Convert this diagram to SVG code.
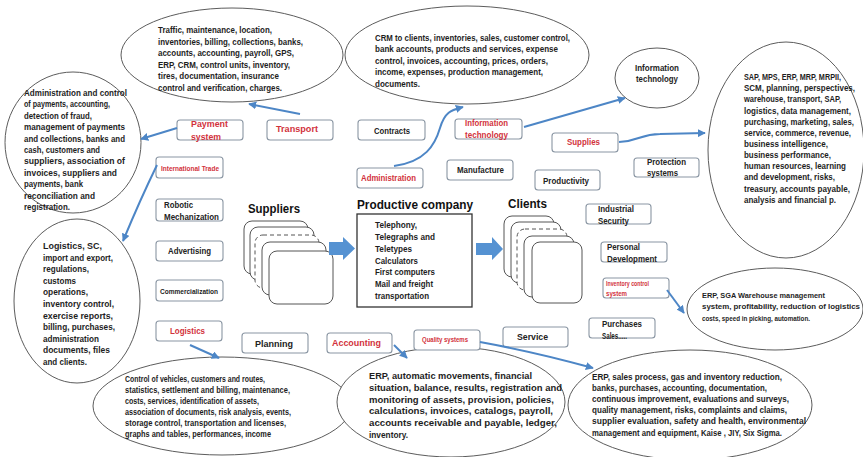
<svg xmlns="http://www.w3.org/2000/svg" width="863" height="457" viewBox="0 0 863 457">
<defs>
<style>
.el{fill:#fff;stroke:#5c5c5c;stroke-width:1}
.bx{fill:#fff;stroke:#8a96a3;stroke-width:1.1}
.p{font-family:'Liberation Sans',Arial,sans-serif;font-size:9.2px;font-weight:bold;fill:#1e1e1e}
.p85{font-family:'Liberation Sans',Arial,sans-serif;font-size:8.5px;font-weight:bold;fill:#1e1e1e}
.p79{font-family:'Liberation Sans',Arial,sans-serif;font-size:7.9px;font-weight:bold;fill:#1e1e1e}
.k{font-family:'Liberation Sans',Arial,sans-serif;font-size:9.5px;font-weight:bold;fill:#222}
.r{font-family:'Liberation Sans',Arial,sans-serif;font-size:9.5px;font-weight:bold;fill:#d2323c}
.rs{font-family:'Liberation Sans',Arial,sans-serif;font-size:7px;font-weight:bold;fill:#d2323c}
.ks{font-family:'Liberation Sans',Arial,sans-serif;font-size:7.5px;font-weight:bold;fill:#222}
.h{font-family:'Liberation Sans',Arial,sans-serif;font-size:12px;font-weight:bold;fill:#111}
.cd{fill:#fff;stroke:#555;stroke-width:1}
.cdd{fill:#fff;stroke:#555;stroke-width:1;stroke-dasharray:4 3}
.cn{fill:none;stroke:#4d86c6;stroke-width:2;marker-end:url(#ah)}
.ba{fill:#5592d2}
</style>
<marker id="ah" viewBox="0 0 10 10" refX="9" refY="5" markerWidth="4" markerHeight="4" orient="auto"><path d="M0,0 L10,5 L0,10 z" fill="#4d86c6"/></marker>
</defs>
<rect width="863" height="457" fill="#fff"/>

<g id="ellipse-transport">
<ellipse class="el" cx="232" cy="55" rx="111" ry="47"/>
<text class="p" x="158" y="33" textLength="114" lengthAdjust="spacingAndGlyphs">Traffic, maintenance, location,</text>
<text class="p" x="158" y="44.5" textLength="145" lengthAdjust="spacingAndGlyphs">inventories, billing, collections, banks,</text>
<text class="p" x="158" y="56" textLength="136" lengthAdjust="spacingAndGlyphs">accounts, accounting, payroll, GPS,</text>
<text class="p" x="158" y="67.5" textLength="132" lengthAdjust="spacingAndGlyphs">ERP, CRM, control units, inventory,</text>
<text class="p" x="158" y="79" textLength="121" lengthAdjust="spacingAndGlyphs">tires, documentation, insurance</text>
<text class="p" x="158" y="90.5" textLength="124" lengthAdjust="spacingAndGlyphs">control and verification, charges.</text>
</g>

<g id="ellipse-administration">
<ellipse class="el" cx="467" cy="55" rx="122" ry="49"/>
<text class="p" x="375" y="40.5" textLength="195" lengthAdjust="spacingAndGlyphs">CRM to clients, inventories, sales, customer control,</text>
<text class="p" x="375" y="52" textLength="183" lengthAdjust="spacingAndGlyphs">bank accounts, products and services, expense</text>
<text class="p" x="375" y="63.5" textLength="173" lengthAdjust="spacingAndGlyphs">control, invoices, accounting, prices, orders,</text>
<text class="p" x="375" y="75" textLength="168" lengthAdjust="spacingAndGlyphs">income, expenses, production management,</text>
<text class="p" x="375" y="86.5" textLength="45" lengthAdjust="spacingAndGlyphs">documents.</text>
</g>

<g id="ellipse-payment">
<ellipse class="el" cx="73" cy="142.5" rx="68" ry="70.5"/>
<text class="p" x="24" y="96" textLength="103" lengthAdjust="spacingAndGlyphs">Administration and control</text>
<text class="p" x="24" y="107.4" textLength="86" lengthAdjust="spacingAndGlyphs">of payments, accounting,</text>
<text class="p" x="24" y="118.8" textLength="68" lengthAdjust="spacingAndGlyphs">detection of fraud,</text>
<text class="p" x="24" y="130.2" textLength="101" lengthAdjust="spacingAndGlyphs">management of payments</text>
<text class="p" x="24" y="141.6" textLength="101" lengthAdjust="spacingAndGlyphs">and collections, banks and</text>
<text class="p" x="24" y="153" textLength="76" lengthAdjust="spacingAndGlyphs">cash, customers and</text>
<text class="p" x="24" y="164.4" textLength="101" lengthAdjust="spacingAndGlyphs">suppliers, association of</text>
<text class="p" x="24" y="175.8" textLength="93" lengthAdjust="spacingAndGlyphs">invoices, suppliers and</text>
<text class="p" x="24" y="187.2" textLength="59" lengthAdjust="spacingAndGlyphs">payments, bank</text>
<text class="p" x="24" y="198.6" textLength="71" lengthAdjust="spacingAndGlyphs">reconciliation and</text>
<text class="p" x="24" y="210" textLength="46" lengthAdjust="spacingAndGlyphs">registration.</text>
</g>

<g id="ellipse-supplies">
<ellipse class="el" cx="786" cy="150" rx="78" ry="108"/>
<text class="p85" x="744" y="80" textLength="97" lengthAdjust="spacingAndGlyphs">SAP, MPS, ERP, MRP, MRPII,</text>
<text class="p85" x="744" y="91.2" textLength="111" lengthAdjust="spacingAndGlyphs">SCM, planning, perspectives,</text>
<text class="p85" x="744" y="102.3" textLength="97" lengthAdjust="spacingAndGlyphs">warehouse, transport, SAP,</text>
<text class="p85" x="744" y="113.5" textLength="107" lengthAdjust="spacingAndGlyphs">logistics, data management,</text>
<text class="p85" x="744" y="124.6" textLength="110" lengthAdjust="spacingAndGlyphs">purchasing, marketing, sales,</text>
<text class="p85" x="744" y="135.8" textLength="107" lengthAdjust="spacingAndGlyphs">service, commerce, revenue,</text>
<text class="p85" x="744" y="146.9" textLength="84" lengthAdjust="spacingAndGlyphs">business intelligence,</text>
<text class="p85" x="744" y="158" textLength="87" lengthAdjust="spacingAndGlyphs">business performance,</text>
<text class="p85" x="744" y="169.2" textLength="102" lengthAdjust="spacingAndGlyphs">human resources, learning</text>
<text class="p85" x="744" y="180.4" textLength="91" lengthAdjust="spacingAndGlyphs">and development, risks,</text>
<text class="p85" x="744" y="191.5" textLength="106" lengthAdjust="spacingAndGlyphs">treasury, accounts payable,</text>
<text class="p85" x="744" y="202.6" textLength="92" lengthAdjust="spacingAndGlyphs">analysis and financial p.</text>
</g>

<g id="ellipse-infotech">
<ellipse class="el" cx="657" cy="78" rx="42" ry="30"/>
<text class="p" x="635" y="71.3" textLength="44" lengthAdjust="spacingAndGlyphs">Information</text>
<text class="p" x="636" y="82.3" textLength="42" lengthAdjust="spacingAndGlyphs">technology</text>
</g>

<g id="ellipse-international">
<ellipse class="el" cx="77" cy="301" rx="63" ry="82"/>
<text class="p" x="43" y="249" textLength="59" lengthAdjust="spacingAndGlyphs">Logistics, SC,</text>
<text class="p" x="43" y="260.6" textLength="70" lengthAdjust="spacingAndGlyphs">import and export,</text>
<text class="p" x="43" y="272.2" textLength="46" lengthAdjust="spacingAndGlyphs">regulations,</text>
<text class="p" x="43" y="283.8" textLength="33" lengthAdjust="spacingAndGlyphs">customs</text>
<text class="p" x="43" y="295.4" textLength="45" lengthAdjust="spacingAndGlyphs">operations,</text>
<text class="p" x="43" y="307" textLength="71" lengthAdjust="spacingAndGlyphs">inventory control,</text>
<text class="p" x="43" y="318.6" textLength="70" lengthAdjust="spacingAndGlyphs">exercise reports,</text>
<text class="p" x="43" y="330.2" textLength="72" lengthAdjust="spacingAndGlyphs">billing, purchases,</text>
<text class="p" x="43" y="341.8" textLength="56" lengthAdjust="spacingAndGlyphs">administration</text>
<text class="p" x="43" y="353.4" textLength="67" lengthAdjust="spacingAndGlyphs">documents, files</text>
<text class="p" x="43" y="365" textLength="44" lengthAdjust="spacingAndGlyphs">and clients.</text>
</g>

<g id="ellipse-inventory">
<ellipse class="el" cx="775" cy="309" rx="88" ry="41"/>
<text class="p79" x="702" y="297.6" textLength="123" lengthAdjust="spacingAndGlyphs">ERP, SGA Warehouse management</text>
<text class="p79" x="702" y="309.3" textLength="158" lengthAdjust="spacingAndGlyphs">system, profitability, reduction of logistics</text>
<text class="p79" x="702" y="321" textLength="108" lengthAdjust="spacingAndGlyphs">costs, speed in picking, automation.</text>
</g>

<g id="ellipse-logistics">
<ellipse class="el" cx="222" cy="406" rx="129" ry="49"/>
<text class="p85" x="125" y="381.6" textLength="140" lengthAdjust="spacingAndGlyphs">Control of vehicles, customers and routes,</text>
<text class="p85" x="125" y="392.7" textLength="165" lengthAdjust="spacingAndGlyphs">statistics, settlement and billing, maintenance,</text>
<text class="p85" x="125" y="403.8" textLength="134" lengthAdjust="spacingAndGlyphs">costs, services, identification of assets,</text>
<text class="p85" x="125" y="414.9" textLength="166" lengthAdjust="spacingAndGlyphs">association of documents, risk analysis, events,</text>
<text class="p85" x="125" y="426" textLength="161" lengthAdjust="spacingAndGlyphs">storage control, transportation and licenses,</text>
<text class="p85" x="125" y="437.1" textLength="146" lengthAdjust="spacingAndGlyphs">graphs and tables, performances, income</text>
</g>

<g id="ellipse-accounting">
<ellipse class="el" cx="451" cy="402" rx="114" ry="55"/>
<text class="p" x="369" y="379.3" textLength="163" lengthAdjust="spacingAndGlyphs">ERP, automatic movements, financial</text>
<text class="p" x="369" y="391" textLength="193" lengthAdjust="spacingAndGlyphs">situation, balance, results, registration and</text>
<text class="p" x="369" y="402.6" textLength="185" lengthAdjust="spacingAndGlyphs">monitoring of assets, provision, policies,</text>
<text class="p" x="369" y="414.3" textLength="184" lengthAdjust="spacingAndGlyphs">calculations, invoices, catalogs, payroll,</text>
<text class="p" x="369" y="426" textLength="188" lengthAdjust="spacingAndGlyphs">accounts receivable and payable, ledger,</text>
<text class="p" x="369" y="437.6" textLength="39" lengthAdjust="spacingAndGlyphs">inventory.</text>
</g>

<g id="ellipse-quality">
<ellipse class="el" cx="690" cy="405" rx="122" ry="55"/>
<text class="p" x="592" y="380" textLength="190" lengthAdjust="spacingAndGlyphs">ERP, sales process, gas and inventory reduction,</text>
<text class="p" x="592" y="391.1" textLength="175" lengthAdjust="spacingAndGlyphs">banks, purchases, accounting, documentation,</text>
<text class="p" x="592" y="402.2" textLength="197" lengthAdjust="spacingAndGlyphs">continuous improvement, evaluations and surveys,</text>
<text class="p" x="592" y="413.3" textLength="195" lengthAdjust="spacingAndGlyphs">quality management, risks, complaints and claims,</text>
<text class="p" x="592" y="424.4" textLength="214" lengthAdjust="spacingAndGlyphs">supplier evaluation, safety and health, environmental</text>
<text class="p" x="592" y="435.5" textLength="190" lengthAdjust="spacingAndGlyphs">management and equipment, Kaise , JIY, Six Sigma.</text>
</g>

<g id="payment-system"><rect class="bx" x="177" y="120" width="66" height="20" rx="3"/>
<text class="r" x="191" y="126.5" textLength="37" lengthAdjust="spacingAndGlyphs">Payment</text>
<text class="r" x="191" y="139.5" textLength="30" lengthAdjust="spacingAndGlyphs">system</text></g>
<g id="transport"><rect class="bx" x="267" y="120" width="66" height="20" rx="3"/>
<text class="r" x="276" y="132" textLength="42" lengthAdjust="spacingAndGlyphs">Transport</text></g>
<g id="contracts"><rect class="bx" x="358" y="120" width="67" height="20" rx="3"/>
<text class="k" x="374" y="133.5" textLength="36" lengthAdjust="spacingAndGlyphs">Contracts</text></g>
<g id="administration"><rect class="bx" x="357" y="168" width="66" height="20" rx="3"/>
<text class="r" x="361" y="181" textLength="55" lengthAdjust="spacingAndGlyphs">Administration</text></g>
<g id="international-trade"><rect class="bx" x="156" y="157" width="67" height="21" rx="3"/>
<text class="rs" x="161" y="170.8" textLength="58" lengthAdjust="spacingAndGlyphs">International Trade</text></g>
<g id="robotic"><rect class="bx" x="156" y="199" width="67" height="22" rx="3"/>
<text class="k" x="164" y="208" textLength="29" lengthAdjust="spacingAndGlyphs">Robotic</text>
<text class="k" x="164" y="219.5" textLength="55" lengthAdjust="spacingAndGlyphs">Mechanization</text></g>
<g id="advertising"><rect class="bx" x="156" y="241" width="67" height="20" rx="3"/>
<text class="k" x="168" y="253.5" textLength="43" lengthAdjust="spacingAndGlyphs">Advertising</text></g>
<g id="commercialization"><rect class="bx" x="156" y="280" width="67" height="21" rx="3"/>
<text class="ks" x="160" y="293.5" textLength="58" lengthAdjust="spacingAndGlyphs">Commercialization</text></g>
<g id="information-technology"><rect class="bx" x="455" y="119" width="67" height="20" rx="3"/>
<text class="r" x="465" y="125.8" textLength="43" lengthAdjust="spacingAndGlyphs">Information</text>
<text class="r" x="465" y="137.8" textLength="43" lengthAdjust="spacingAndGlyphs">technology</text></g>
<g id="supplies"><rect class="bx" x="552" y="133" width="66" height="19" rx="3"/>
<text class="r" x="567" y="144.5" textLength="33" lengthAdjust="spacingAndGlyphs">Supplies</text></g>
<g id="manufacture"><rect class="bx" x="447" y="160" width="66" height="20" rx="3"/>
<text class="k" x="457" y="172.5" textLength="47" lengthAdjust="spacingAndGlyphs">Manufacture</text></g>
<g id="productivity"><rect class="bx" x="535" y="170" width="65" height="20" rx="3"/>
<text class="k" x="543" y="183.5" textLength="46" lengthAdjust="spacingAndGlyphs">Productivity</text></g>
<g id="protection-systems"><rect class="bx" x="634" y="158" width="65" height="19" rx="3"/>
<text class="k" x="647" y="164.5" textLength="39" lengthAdjust="spacingAndGlyphs">Protection</text>
<text class="k" x="647" y="176" textLength="31" lengthAdjust="spacingAndGlyphs">systems</text></g>
<g id="industrial-security"><rect class="bx" x="586" y="204" width="65" height="20" rx="3"/>
<text class="k" x="598" y="212" textLength="36" lengthAdjust="spacingAndGlyphs">Industrial</text>
<text class="k" x="598" y="223.5" textLength="31" lengthAdjust="spacingAndGlyphs">Security</text></g>
<g id="personal-development"><rect class="bx" x="601" y="242" width="66" height="20" rx="3"/>
<text class="k" x="607" y="250" textLength="33" lengthAdjust="spacingAndGlyphs">Personal</text>
<text class="k" x="607" y="262" textLength="50" lengthAdjust="spacingAndGlyphs">Development</text></g>
<g id="inventory-control"><rect class="bx" x="603" y="278" width="66" height="20" rx="3"/>
<text class="rs" x="606" y="285.5" textLength="43" lengthAdjust="spacingAndGlyphs">Inventory control</text>
<text class="rs" x="606" y="295.5" textLength="21" lengthAdjust="spacingAndGlyphs">system</text></g>
<g id="purchases-sales"><rect class="bx" x="589" y="318" width="66" height="20" rx="3"/>
<text class="k" x="602" y="327" textLength="40" lengthAdjust="spacingAndGlyphs">Purchases</text>
<text class="k" x="602" y="338.5" textLength="25" lengthAdjust="spacingAndGlyphs">Sales.....</text></g>
<g id="service"><rect class="bx" x="503" y="327" width="65" height="20" rx="3"/>
<text class="k" x="517" y="339.5" textLength="31" lengthAdjust="spacingAndGlyphs">Service</text></g>
<g id="quality-systems"><rect class="bx" x="414" y="330" width="66" height="20" rx="3"/>
<text class="rs" x="422" y="342" textLength="46" lengthAdjust="spacingAndGlyphs">Quality systems</text></g>
<g id="accounting"><rect class="bx" x="327" y="333" width="65" height="20" rx="3"/>
<text class="r" x="332" y="346" textLength="49" lengthAdjust="spacingAndGlyphs">Accounting</text></g>
<g id="logistics"><rect class="bx" x="156" y="321" width="66" height="20" rx="3"/>
<text class="r" x="170" y="334" textLength="35" lengthAdjust="spacingAndGlyphs">Logistics</text></g>
<g id="planning"><rect class="bx" x="242" y="333" width="66" height="20" rx="3"/>
<text class="k" x="255" y="346.5" textLength="38" lengthAdjust="spacingAndGlyphs">Planning</text></g>

<g id="suppliers">
<text class="h" x="248" y="212.5" textLength="52" lengthAdjust="spacingAndGlyphs">Suppliers</text>
<rect class="cd" x="244" y="221" width="64" height="53" rx="8"/>
<rect class="cd" x="250" y="227" width="64" height="53" rx="8"/>
<rect class="cdd" x="255" y="235" width="64" height="53" rx="8"/>
<rect class="cd" x="262" y="242" width="64" height="53" rx="8"/>
<rect class="cd" x="269" y="251" width="64" height="53" rx="8"/>
</g>

<g id="productive-company">
<text class="h" x="357" y="209.3" textLength="116" lengthAdjust="spacingAndGlyphs">Productive company</text>
<rect x="357" y="214" width="115" height="93" fill="#fff" stroke="#333" stroke-width="1.3"/>
<text class="p" x="375" y="228.3" textLength="42" lengthAdjust="spacingAndGlyphs">Telephony,</text>
<text class="p" x="375" y="240" textLength="60" lengthAdjust="spacingAndGlyphs">Telegraphs and</text>
<text class="p" x="375" y="251.8" textLength="37" lengthAdjust="spacingAndGlyphs">Teletypes</text>
<text class="p" x="375" y="263.5" textLength="43" lengthAdjust="spacingAndGlyphs">Calculators</text>
<text class="p" x="375" y="275.3" textLength="60" lengthAdjust="spacingAndGlyphs">First computers</text>
<text class="p" x="375" y="287" textLength="58" lengthAdjust="spacingAndGlyphs">Mail and freight</text>
<text class="p" x="375" y="298.8" textLength="54" lengthAdjust="spacingAndGlyphs">transportation</text>
</g>

<g id="clients">
<text class="h" x="508" y="208.3" textLength="39" lengthAdjust="spacingAndGlyphs">Clients</text>
<rect class="cd" x="504" y="216" width="50" height="61" rx="8"/>
<rect class="cd" x="511" y="222" width="50" height="61" rx="8"/>
<rect class="cdd" x="517" y="229" width="50" height="61" rx="8"/>
<rect class="cd" x="524" y="236" width="50" height="61" rx="8"/>
<rect class="cd" x="532" y="242" width="50" height="61" rx="8"/>
</g>

<g id="connectors">
<path class="ba" d="M329,242 L343,242 L343,237 L355,248.5 L343,260 L343,255 L329,255 z"/>
<path class="ba" d="M476,243 L492,243 L492,237 L503,249 L492,260 L492,255 L476,255 z"/>
<path class="cn" d="M300,114 L249,104"/>
<path class="cn" d="M177,128 L141,139"/>
<path class="cn" d="M157,165 Q140,200 123,241"/>
<path class="cn" d="M394,166 C425,162 435,145 440,128 S452,110 463,107"/>
<path class="cn" d="M524,127 L625,98"/>
<path class="cn" d="M619,142 C640,141 640,134 660,134 L705,133"/>
<path class="cn" d="M667,290 L684,313"/>
<path class="cn" d="M190,345 L219,358"/>
<path class="cn" d="M394,345 L407,358"/>
<path class="cn" d="M480,342 Q535,352 593,368"/>
</g>
</svg>
